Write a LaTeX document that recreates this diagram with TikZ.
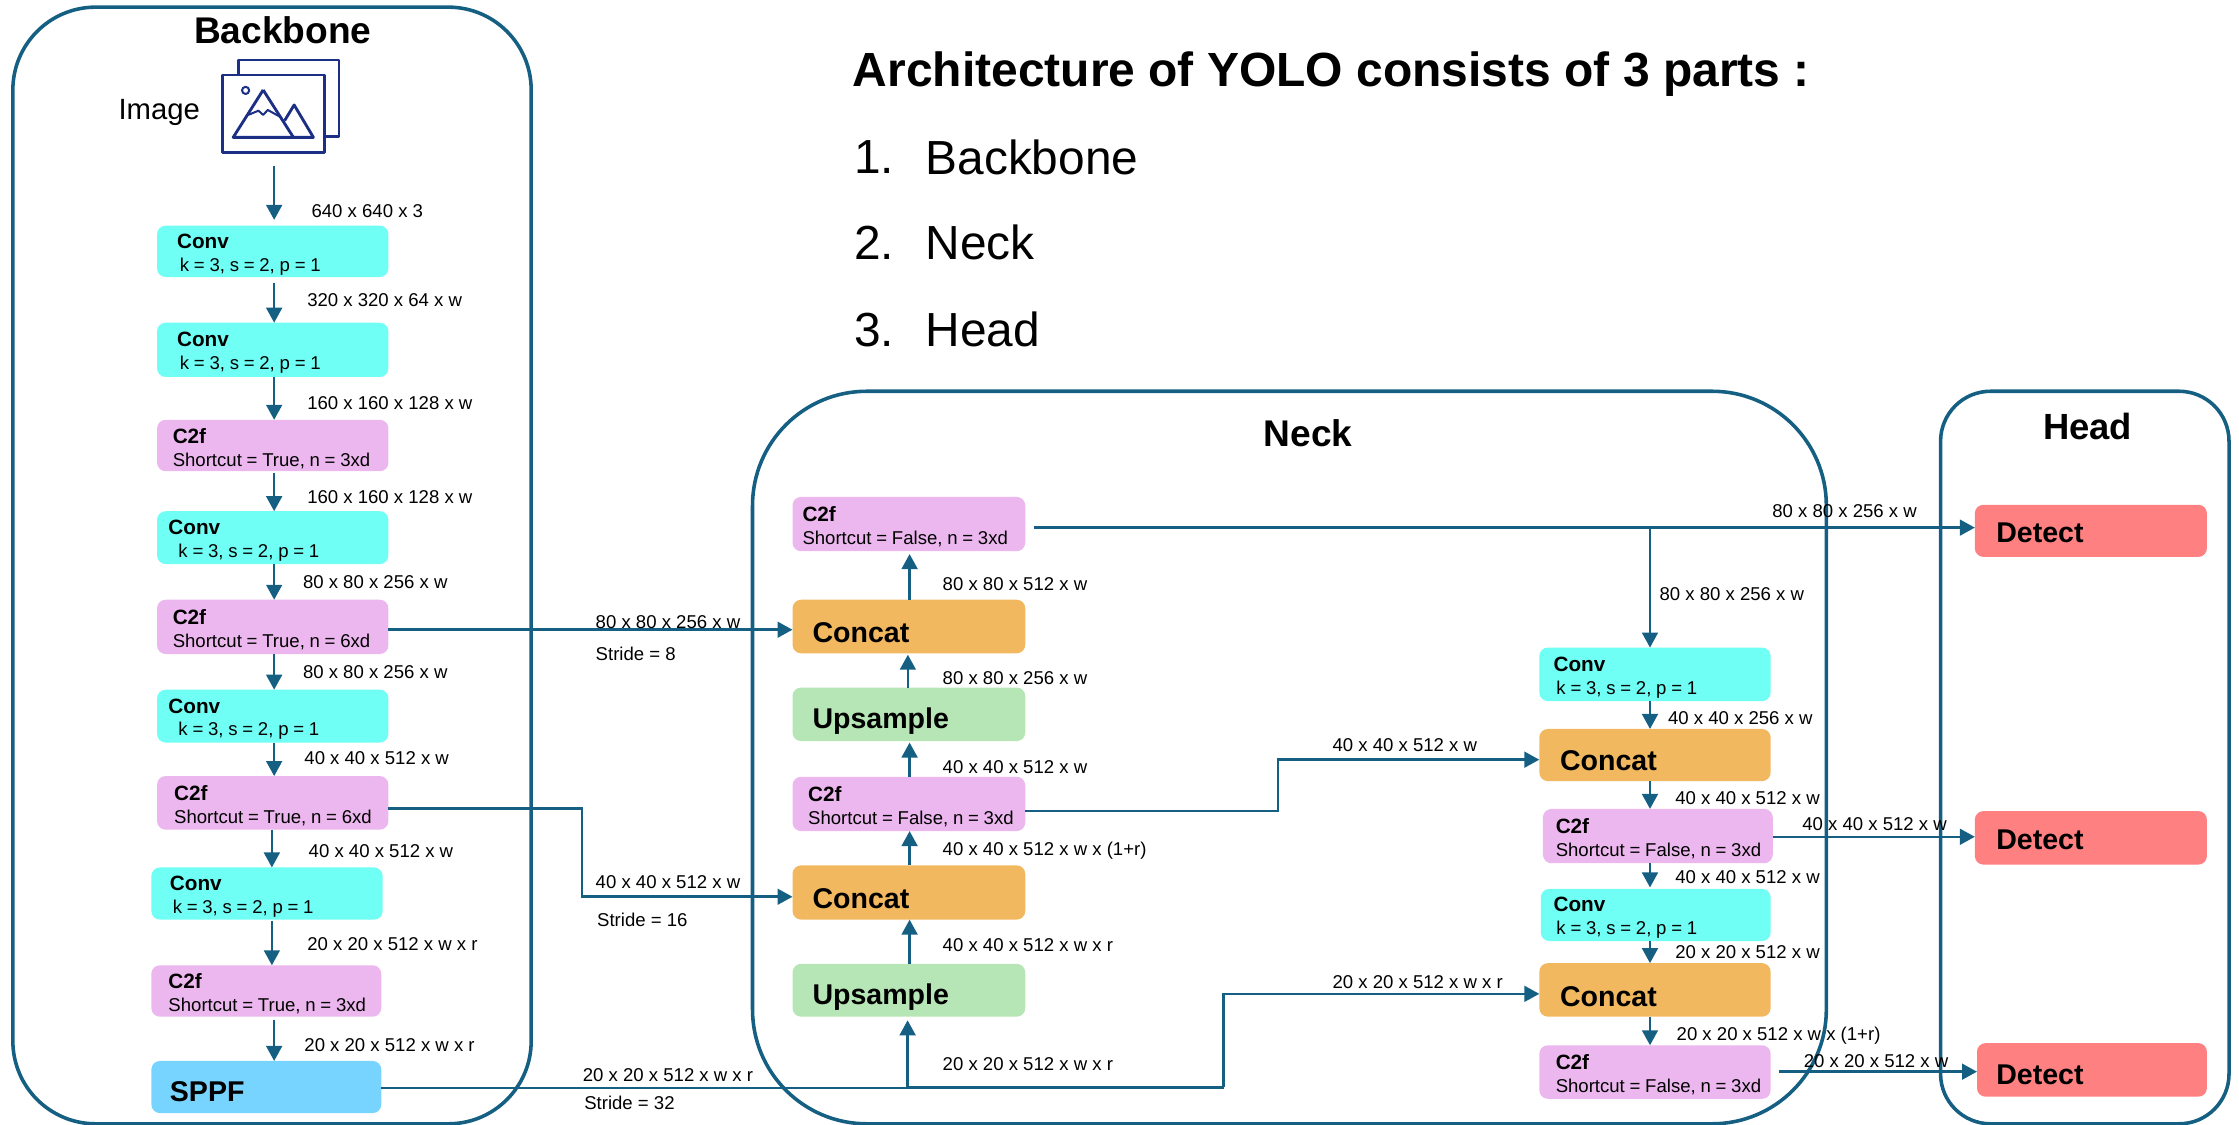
\documentclass[tikz,border=0pt]{standalone}
\usepackage{fontspec}
\setmainfont{Liberation Sans}
\usetikzlibrary{arrows.meta,calc}
\definecolor{ln}{HTML}{156082}
\definecolor{cconv}{HTML}{70FFF5}
\definecolor{cc2f}{HTML}{ECB6EE}
\definecolor{cconcat}{HTML}{F2B85F}
\definecolor{cup}{HTML}{B6E6B6}
\definecolor{cdet}{HTML}{FF8080}
\definecolor{csppf}{HTML}{76D4FF}
\definecolor{navy}{HTML}{1B2F85}
\tikzset{
  panel/.style={draw=ln,line width=2.5pt,fill=none},
  blockbox/.style={rounded corners=6pt,inner sep=0pt,outer sep=0pt,align=left},
  convb/.style={blockbox,fill=cconv},
  c2fb/.style={blockbox,fill=cc2f},
  concatb/.style={blockbox,fill=cconcat},
  upb/.style={blockbox,fill=cup},
  detb/.style={blockbox,fill=cdet},
  sppfb/.style={blockbox,fill=csppf},
  arr/.style={draw=ln,line width=1.8pt,-{Triangle[length=10.5pt,width=11pt]}},
  plain/.style={draw=ln,line width=1.8pt},
  lab/.style={anchor=west,inner sep=0pt,font=\fontsize{13}{15}\selectfont},
  paneltitle/.style={inner sep=0pt,font=\fontsize{26}{30}\selectfont\bfseries},
  listtext/.style={anchor=west,inner sep=0pt,font=\fontsize{33.5}{38}\selectfont},
  icon/.style={draw=navy,line width=2pt,line join=round},
}
% name, style, L, T, R, B, text x, content
\newcommand{\bx}[8]{%
  \pgfmathsetlengthmacro{\bw}{(#5)-(#3)}%
  \pgfmathsetlengthmacro{\bh}{(#6)-(#4)}%
  \pgfmathsetlengthmacro{\bp}{(#7)-(#3)}%
  \node[#2,minimum height=\bh,text width=\bw] (#1) at ({((#3)+(#5))/2},{((#4)+(#6))/2}) {\hspace*{\bp}#8};}
\newcommand{\tl}[3]{\rule{0pt}{14.5pt}{\fontsize{14.5}{16}\selectfont\bfseries #1}\\[4pt]\hspace*{\bp}\hspace*{#3pt}{\fontsize{13}{16}\selectfont #2}}
% #1: height of the strut that sets how low the word sits, #2: the word
\newcommand{\bigt}[2]{\rule{0pt}{#1pt}{\fontsize{20}{24}\selectfont\bfseries #2}}
\newcommand{\kk}{k = 3, s = 2, p = 1}
\begin{document}
\begin{tikzpicture}[x=1pt,y=-1pt]
\useasboundingbox (0,0) rectangle (1568,787.8);
% panels
\node[panel,rounded corners=58pt,minimum width=363pt,minimum height=782pt,inner sep=0pt] (backbone) at (190.5,396) {};
\node[panel,rounded corners=80pt,minimum width=752pt,minimum height=513pt,inner sep=0pt] (neck) at (903,530.5) {};
\node[panel,rounded corners=35pt,minimum width=202pt,minimum height=513pt,inner sep=0pt] (head) at (1460,530.5) {};
\node[paneltitle] (tb) at (198,21.5) {Backbone};
\node[paneltitle] (tn) at (916,303.5) {Neck};
\node[paneltitle,font=\fontsize{25.5}{30}\selectfont\bfseries] (th) at (1462,299) {Head};
% title
\node[anchor=west,inner sep=0pt,font=\fontsize{33.6}{38}\selectfont\bfseries] (ttl) at (597,52) {Architecture of YOLO consists of 3 parts :};
\node[listtext] (n1) at (598,110) {1.}; \node[listtext] (l1) at (648,110) {Backbone};
\node[listtext] (n2) at (598,170) {2.}; \node[listtext] (l2) at (648,170) {Neck};
\node[listtext] (n3) at (598,231) {3.}; \node[listtext] (l3) at (648,231) {Head};
% image
\node[inner sep=0pt,font=\fontsize{20.5}{24}\selectfont] (imgl) at (111.5,79) {Image};
\node[icon,fill=white,minimum width=70.5pt,minimum height=53.5pt,inner sep=0pt] (imgb) at (202.2,68.8) {};
\node[icon,fill=white,minimum width=71pt,minimum height=54pt,inner sep=0pt] (imgf) at (191.5,79.5) {};
\draw[icon] (184.3,63)--(163.3,96.2)--(219.5,96.2)--(206,73.5)--(199.3,84.5);
\draw[icon] (184.3,63)--(205.5,96.2);
\draw[icon,line width=1.4pt] (173.8,80.5)--(181,77.5)--(184.3,80.5)--(187.5,77)--(196,81.7);
\draw[icon,line width=1.4pt] (172,63.3) circle (2.5);
% backbone
\bx{conv1}{convb}{110}{158}{272}{194}{124}{\tl{Conv}{\kk}{2}}
\bx{conv2}{convb}{110}{226}{272}{264}{124}{\tl{Conv}{\kk}{2}}
\bx{c2fa}{c2fb}{110}{294}{272}{330}{121}{\tl{C2f}{Shortcut = True, n = 3xd}{0}}
\bx{conv3}{convb}{110}{358}{272}{395}{118}{\tl{Conv}{\kk}{7}}
\bx{c2fb1}{c2fb}{110}{420}{272}{458}{121}{\tl{C2f}{Shortcut = True, n = 6xd}{0}}
\bx{conv4}{convb}{110}{483}{272}{520}{118}{\tl{Conv}{\kk}{7}}
\bx{c2fc}{c2fb}{110}{543.5}{272}{581}{122}{\tl{C2f}{Shortcut = True, n = 6xd}{0}}
\bx{conv5}{convb}{106}{607.5}{268}{644}{119}{\tl{Conv}{\kk}{2}}
\bx{c2fd}{c2fb}{106}{676}{267}{712}{118}{\tl{C2f}{Shortcut = True, n = 3xd}{0}}
\bx{sppf}{sppfb}{106}{743}{267}{779.5}{119}{\bigt{20}{SPPF}}
% neck
\bx{c2fe}{c2fb}{555}{348}{718}{386}{562}{\tl{C2f}{Shortcut = False, n = 3xd}{0}}
\bx{conca}{concatb}{555}{420}{718}{457.5}{569}{\bigt{22}{Concat}}
\bx{upa}{upb}{555}{481.5}{718}{519}{569}{\bigt{24}{Upsample}}
\bx{c2ff}{c2fb}{555}{544}{718}{582}{566}{\tl{C2f}{Shortcut = False, n = 3xd}{0}}
\bx{concb}{concatb}{555}{606}{718}{644}{569}{\bigt{22}{Concat}}
\bx{upb1}{upb}{555}{675}{718}{712}{569}{\bigt{24}{Upsample}}
% right column
\bx{conv6}{convb}{1078}{453.5}{1240}{491}{1088}{\tl{Conv}{\kk}{2}}
\bx{concc}{concatb}{1078}{510.5}{1240}{547}{1092.5}{\bigt{22}{Concat}}
\bx{c2fg}{c2fb}{1080.5}{566.5}{1241.5}{604.5}{1089.5}{\tl{C2f}{Shortcut = False, n = 3xd}{0}}
\bx{conv7}{convb}{1079}{622.5}{1240}{659}{1088}{\tl{Conv}{\kk}{2}}
\bx{concd}{concatb}{1078}{674.5}{1240}{712}{1092.5}{\bigt{23}{Concat}}
\bx{c2fh}{c2fb}{1078}{732}{1240}{769.5}{1089.5}{\tl{C2f}{Shortcut = False, n = 3xd}{0}}
% detect
\bx{deta}{detb}{1383}{353.5}{1545.5}{390}{1398}{\bigt{17}{Detect}}
\bx{detb1}{detb}{1383}{568}{1545.5}{605.5}{1398}{\bigt{17}{Detect}}
\bx{detc}{detb}{1384.5}{730.5}{1545.5}{768}{1398}{\bigt{20}{Detect}}
% reference coordinates
\coordinate (ax) at (192,0);
\coordinate (bx) at (190.4,0);
\coordinate (nx) at (637,0);
\coordinate (nxb) at (635.8,0);
\coordinate (rx) at (1155.5,0);
\coordinate (p1) at (407.5,566);
\coordinate (p2) at (407.5,628);
\coordinate (p3) at (895,568);
\coordinate (p4) at (895,532);
\coordinate (p5) at (635.6,762);
\coordinate (p6) at (857,761.5);
\coordinate (p7) at (857,696);
\coordinate (p8) at (1155.5,369.5);
\coordinate (y1) at (0,441);
\coordinate (y2) at (0,586);
\coordinate (y3) at (0,750.5);
% backbone arrows
\draw[arr,shorten <=9pt,shorten >=4pt] (imgf.south -| ax) -- (conv1.north -| ax);
\draw[arr,shorten <=4pt] (conv1.south -| ax) -- (conv2.north -| ax);
\draw[arr] (conv2.south -| ax) -- (c2fa.north -| ax);
\draw[arr,shorten <=1pt] (c2fa.south -| ax) -- (conv3.north -| ax);
\draw[arr] (conv3.south -| ax) -- (c2fb1.north -| ax);
\draw[arr] (c2fb1.south -| ax) -- (conv4.north -| ax);
\draw[arr] (conv4.south -| ax) -- (c2fc.north -| ax);
\draw[arr] (c2fc.south -| bx) -- (conv5.north -| bx);
\draw[arr,shorten <=1pt] (conv5.south -| bx) -- (c2fd.north -| bx);
\draw[arr,shorten <=2pt] (c2fd.south -| ax) -- (sppf.north -| ax);
% cross connectors
\draw[arr] (c2fb1.east |- y1) -- (conca.west |- y1);
\draw[arr] (c2fc.east |- p1) -- (p1) -- (p2) -- (concb.west |- p2);
\draw[plain] (sppf.east |- p5) -- (p5);
\draw[plain] (p5 |- p6) -- (p6);
\draw[arr,shorten >=2.5pt] (p5) -- (upb1.south -| p5);
\draw[arr] (p6) -- (p7) -- (concd.west |- p7);
\draw[arr] (c2ff.east |- p3) -- (p3) -- (p4) -- (concc.west |- p4);
% neck arrows
\draw[arr] (upb1.north -| nx) -- (concb.south -| nx);
\draw[arr] (concb.north -| nx) -- (c2ff.south -| nx);
\draw[arr,shorten >=1pt] (c2ff.north -| nx) -- (upa.south -| nx);
\draw[arr,shorten >=1pt] (upa.north -| nxb) -- (conca.south -| nxb);
\draw[arr,shorten >=2pt] (conca.north -| nx) -- (c2fe.south -| nx);
\draw[arr,shorten <=6pt] (c2fe.east |- p8) -- (deta.west |- p8);
\draw[arr] (p8) -- (conv6.north -| p8);
% right column arrows
\draw[arr] (conv6.south -| rx) -- (concc.north -| rx);
\draw[arr] (concc.south -| rx) -- (c2fg.north -| rx);
\draw[arr,shorten >=1pt] (c2fg.south -| rx) -- (conv7.north -| rx);
\draw[arr] (conv7.south -| rx) -- (concd.north -| rx);
\draw[arr] (concd.south -| rx) -- (c2fh.north -| rx);
\draw[arr] (c2fg.east |- y2) -- (detb1.west |- y2);
\draw[arr,shorten <=6pt] (c2fh.east |- y3) -- (detc.west |- y3);
% labels
\node[lab] (a1) at (218,148) {640 x 640 x 3};
\node[lab] (a2) at (215,210) {320 x 320 x 64 x w};
\node[lab] (a3) at (215,282) {160 x 160 x 128 x w};
\node[lab] (a4) at (215,348) {160 x 160 x 128 x w};
\node[lab] (a5) at (212,408) {80 x 80 x 256 x w};
\node[lab] (a6) at (212,471) {80 x 80 x 256 x w};
\node[lab] (a7) at (213,531) {40 x 40 x 512 x w};
\node[lab] (a8) at (216,596) {40 x 40 x 512 x w};
\node[lab] (a9) at (215,661) {20 x 20 x 512 x w x r};
\node[lab] (a10) at (213,732) {20 x 20 x 512 x w x r};
\node[lab] (m1) at (417,436) {80 x 80 x 256 x w};
\node[lab] (m2) at (417,458) {Stride = 8};
\node[lab] (m3) at (417,618) {40 x 40 x 512 x w};
\node[lab] (m4) at (418,644) {Stride = 16};
\node[lab] (m5) at (408,753) {20 x 20 x 512 x w x r};
\node[lab] (m6) at (409,772) {Stride = 32};
\node[lab] (b1) at (660,409) {80 x 80 x 512 x w};
\node[lab] (b2) at (660,475) {80 x 80 x 256 x w};
\node[lab] (b3) at (660,537) {40 x 40 x 512 x w};
\node[lab] (b4) at (660,596) {40 x 40 x 512 x w x (1+r)};
\node[lab] (b5) at (660,662) {40 x 40 x 512 x w x r};
\node[lab] (b6) at (660,745) {20 x 20 x 512 x w x r};
\node[lab] (c1) at (933,522) {40 x 40 x 512 x w};
\node[lab] (c2) at (933,688) {20 x 20 x 512 x w x r};
\node[lab] (d1) at (1241,358) {80 x 80 x 256 x w};
\node[lab] (d2) at (1162,416) {80 x 80 x 256 x w};
\node[lab] (d3) at (1168,503) {40 x 40 x 256 x w};
\node[lab] (d4) at (1173,559) {40 x 40 x 512 x w};
\node[lab] (d5) at (1262,577) {40 x 40 x 512 x w};
\node[lab] (d6) at (1173,614) {40 x 40 x 512 x w};
\node[lab] (d7) at (1173,667) {20 x 20 x 512 x w};
\node[lab] (d8) at (1174,725) {20 x 20 x 512 x w x (1+r)};
\node[lab] (d9) at (1263,743) {20 x 20 x 512 x w};
\end{tikzpicture}
\end{document}
